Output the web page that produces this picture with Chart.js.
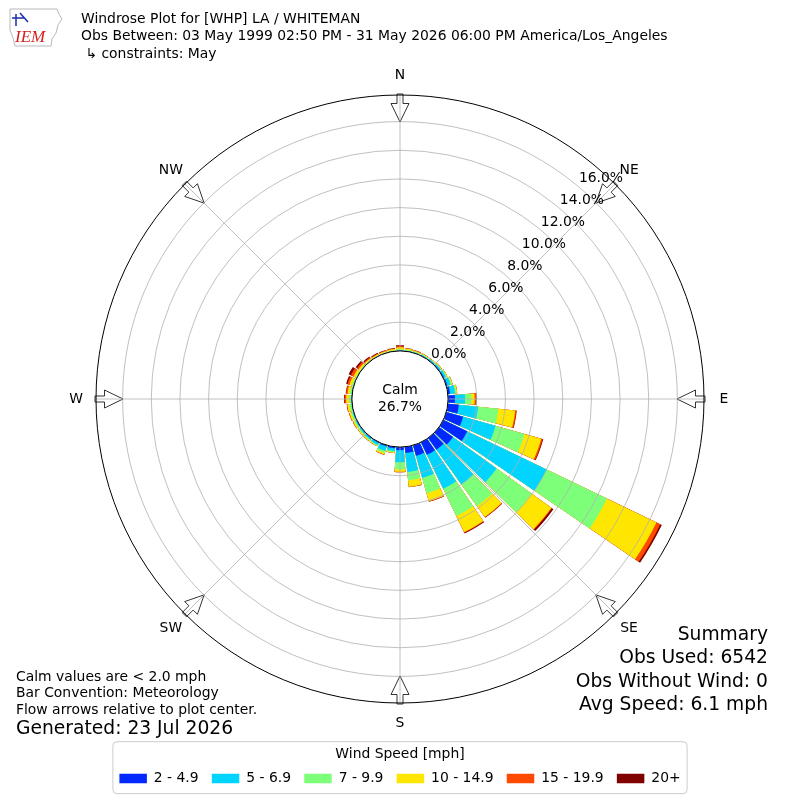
<!DOCTYPE html>
<html lang="en">
<head>
  <meta charset="UTF-8">
  <title>Windrose Plot for [WHP] LA / WHITEMAN</title>
  <style>
    html, body {
      margin: 0;
      padding: 0;
      background: #fff;
    }
    #wrap {
      width: 800px;
      height: 800px;
    }
  </style>
</head>
<body>
  <div id="wrap">
    <canvas id="rose" width="800" height="800"></canvas>
  </div>

  <script src="https://cdn.jsdelivr.net/npm/chart.js"></script>
  <script>
    // bar directions, degrees clockwise from north
    const directions = [0, 10, 20, 30, 40, 50, 60, 70, 80, 90, 100, 110, 120, 130, 140, 150, 160, 170,
      180, 190, 200, 210, 220, 230, 240, 250, 260, 270, 280, 290, 300, 310, 320, 330, 340, 350];

    const speedBins = ['2 - 4.9', '5 - 6.9', '7 - 9.9', '10 - 14.9', '15 - 19.9', '20+'];
    const binColors = ['#0028ff', '#00d4ff', '#7dff7a', '#ffe600', '#ff4a00', '#800000'];

    // percent of all obs, per direction, one list per speed bin
    const pct2to5 = [0.02, 0.02, 0.02, 0.03, 0.04, 0.05, 0.06, 0.08, 0.15, 0.48, 0.77, 1.22, 1.85, 1.20, 1.00, 0.97, 0.76, 0.43,
      0.22, 0.10, 0.08, 0.05, 0.04, 0.03, 0.03, 0.02, 0.02, 0.02, 0.02, 0.01, 0.01, 0.01, 0.01, 0.01, 0.01, 0.01];
    const pct5to7 = [0.03, 0.03, 0.03, 0.04, 0.06, 0.10, 0.14, 0.22, 0.35, 0.70, 1.35, 2.35, 6.15, 3.75, 2.97, 2.63, 1.61, 1.33,
      0.83, 0.20, 0.32, 0.15, 0.11, 0.09, 0.07, 0.06, 0.04, 0.03, 0.03, 0.03, 0.02, 0.02, 0.02, 0.01, 0.01, 0.02];
    const pct7to10 = [0.07, 0.05, 0.05, 0.05, 0.04, 0.05, 0.06, 0.10, 0.10, 0.44, 1.42, 2.10, 4.67, 3.00, 1.88, 2.10, 1.11, 0.59,
      0.51, 0.08, 0.15, 0.06, 0.07, 0.08, 0.08, 0.10, 0.12, 0.15, 0.10, 0.08, 0.05, 0.04, 0.03, 0.03, 0.03, 0.04];
    const pct10to15 = [0.13, 0.08, 0.06, 0.04, 0.03, 0.03, 0.04, 0.05, 0.05, 0.23, 1.18, 1.21, 3.83, 1.70, 0.93, 1.25, 0.57, 0.45,
      0.16, 0.05, 0.11, 0.04, 0.06, 0.07, 0.10, 0.12, 0.15, 0.20, 0.17, 0.18, 0.17, 0.13, 0.09, 0.07, 0.08, 0.08];
    const pct15to20 = [0.08, 0.02, 0.02, 0.01, 0.01, 0.01, 0.01, 0.01, 0.01, 0.10, 0.08, 0.10, 0.30, 0.05, 0.04, 0.05, 0.03, 0.02,
      0.03, 0.01, 0.02, 0.01, 0.01, 0.01, 0.02, 0.03, 0.04, 0.10, 0.10, 0.15, 0.20, 0.13, 0.07, 0.05, 0.04, 0.04];
    const pct20plus = [0.07, 0.02, 0.02, 0.01, 0, 0, 0, 0, 0, 0.05, 0.03, 0.05, 0.12, 0.13, 0.03, 0.05, 0.02, 0.01,
      0.01, 0, 0.01, 0, 0.01, 0.01, 0.01, 0.01, 0.01, 0.05, 0.03, 0.10, 0.17, 0.12, 0.08, 0.05, 0.03, 0.03];

    const rTicks = [0, 2, 4, 6, 8, 10, 12, 14, 16];
    const compass = ['N', 'NE', 'E', 'SE', 'S', 'SW', 'W', 'NW'];
    const calmPct = 26.7;

    const titleLines = [
      'Windrose Plot for [WHP] LA / WHITEMAN',
      'Obs Between: 03 May 1999 02:50 PM - 31 May 2026 06:00 PM America/Los_Angeles',
      ' \u21b3 constraints: May'
    ];
    const notes = ['Calm values are < 2.0 mph', 'Bar Convention: Meteorology', 'Flow arrows relative to plot center.'];
    const generated = 'Generated: 23 Jul 2026';
    const summary = ['Summary', 'Obs Used: 6542', 'Obs Without Wind: 0', 'Avg Speed: 6.1 mph'];

    const FONT = 'DejaVu Sans';
    Chart.defaults.font.family = FONT;
    Chart.defaults.color = '#000';

    // stack the bins: each dataset is the running total, smallest drawn on top
    const cumulative = [];
    let running = directions.map(() => 0);
    [pct2to5, pct5to7, pct7to10, pct10to15, pct15to20, pct20plus].forEach(row => {
      running = running.map((v, i) => v + row[i]);
      cumulative.push(running);
    });

    // every bar is followed by a thin empty wedge so the bars are separated
    const barWidth = 8.6;
    const gapWidth = 1.4;
    const labels = directions.flatMap(d => [d + '\u00b0', '']);

    const datasets = speedBins.map((bin, k) => ({
      label: bin,
      data: cumulative[k].flatMap(v => [v, 0]),
      backgroundColor: ctx => (ctx.dataIndex % 2 ? 'rgba(0,0,0,0)' : binColors[k]),
      borderWidth: 0,
      angle: ctx => (ctx.dataIndex % 2 ? gapWidth : barWidth)
    }));

    const roseDecor = {
      id: 'roseDecor',
      afterDraw(chart) {
        const ctx = chart.ctx;
        const sc = chart.scales.r;
        const cx = sc.xCenter;
        const cy = sc.yCenter;
        const R = sc.drawingArea;
        const r0 = sc.getDistanceFromCenterForValue(0);
        ctx.save();

        // compass arrows + labels
        compass.forEach((name, i) => {
          const a = i * Math.PI / 4;
          const ux = Math.sin(a), uy = -Math.cos(a);
          const px = -uy, py = ux;
          const shape = [[R + 1, -3], [R - 8.5, -3], [R - 8.5, -9], [R - 27, 0], [R - 8.5, 9], [R - 8.5, 3], [R + 1, 3]];
          ctx.beginPath();
          shape.forEach(([d, w], j) => {
            const x = cx + ux * d + px * w;
            const y = cy + uy * d + py * w;
            if (j) ctx.lineTo(x, y); else ctx.moveTo(x, y);
          });
          ctx.closePath();
          ctx.fillStyle = '#fff';
          ctx.fill();
          ctx.strokeStyle = '#333';
          ctx.lineWidth = 1;
          ctx.stroke();

          ctx.fillStyle = '#000';
          ctx.font = '13.9px "' + FONT + '"';
          ctx.textAlign = 'center';
          ctx.textBaseline = 'middle';
          ctx.fillText(name, cx + ux * (R + 20), cy + uy * (R + 20));
        });

        // spokes every 45 degrees
        ctx.strokeStyle = '#b0b0b0';
        ctx.lineWidth = 0.8;
        for (let i = 0; i < 8; i++) {
          const a = i * Math.PI / 4;
          ctx.beginPath();
          ctx.moveTo(cx + Math.sin(a) * r0, cy - Math.cos(a) * r0);
          ctx.lineTo(cx + Math.sin(a) * R, cy - Math.cos(a) * R);
          ctx.stroke();
        }

        // outer edge
        ctx.strokeStyle = '#000';
        ctx.lineWidth = 1;
        ctx.beginPath();
        ctx.arc(cx, cy, R, 0, Math.PI * 2);
        ctx.stroke();

        // radial tick labels, along a line toward NE
        ctx.fillStyle = '#000';
        ctx.font = '13.9px "' + FONT + '"';
        ctx.textAlign = 'center';
        ctx.textBaseline = 'middle';
        sc.ticks.forEach(t => {
          const d = sc.getDistanceFromCenterForValue(t.value) - r0;
          ctx.fillText(t.value.toFixed(1) + '%', cx + 48.7 + d * 0.664, cy - 44.7 - d * 0.766);
        });

        // calm circle
        ctx.beginPath();
        ctx.arc(cx, cy, r0, 0, Math.PI * 2);
        ctx.fillStyle = '#fff';
        ctx.fill();
        ctx.strokeStyle = '#000';
        ctx.lineWidth = 1;
        ctx.stroke();
        ctx.fillStyle = '#000';
        ctx.fillText('Calm', cx, cy - 8.5);
        ctx.fillText(calmPct.toFixed(1) + '%', cx, cy + 8.5);

        // legend frame
        const lg = chart.legend;
        const hb = lg.legendHitBoxes;
        if (hb && hb.length) {
          const x0 = hb[0].left - 6.5;
          const x1 = hb[hb.length - 1].left + hb[hb.length - 1].width + 6.5;
          const y0 = lg.top + 37.7;
          ctx.beginPath();
          ctx.roundRect(x0, y0, x1 - x0, 52, 4);
          ctx.strokeStyle = '#cccccc';
          ctx.lineWidth = 1;
          ctx.stroke();
        }

        // notes, bottom left
        ctx.textAlign = 'left';
        ctx.fillStyle = '#000';
        ctx.font = '13.9px "' + FONT + '"';
        notes.forEach((s, i) => ctx.fillText(s, 16, 677 + i * 16.6));
        ctx.font = '18.7px "' + FONT + '"';
        ctx.fillText(generated, 16, 729);

        // summary, bottom right
        ctx.textAlign = 'right';
        summary.forEach((s, i) => ctx.fillText(s, 768, 635 + i * 23.5));

        // IEM logo
        ctx.beginPath();
        [[10, 9], [57, 9], [59, 14], [62, 19], [58, 25], [56, 33], [52, 39], [51, 46], [15, 46], [13, 38], [10, 30]]
          .forEach(([x, y], j) => (j ? ctx.lineTo(x, y) : ctx.moveTo(x, y)));
        ctx.closePath();
        ctx.strokeStyle = '#b8b8b8';
        ctx.lineWidth = 1;
        ctx.stroke();
        ctx.strokeStyle = '#1a2fb0';
        ctx.lineWidth = 1.5;
        ctx.beginPath();
        ctx.moveTo(16, 14); ctx.lineTo(16, 26);
        ctx.moveTo(12, 18); ctx.lineTo(24, 18);
        ctx.moveTo(20, 13); ctx.lineTo(28, 22);
        ctx.stroke();
        ctx.fillStyle = '#d42020';
        ctx.font = 'italic 17px "Liberation Serif"';
        ctx.textAlign = 'left';
        ctx.fillText('IEM', 15, 38);

        ctx.restore();
      }
    };

    new Chart(document.getElementById('rose'), {
      type: 'polarArea',
      data: { labels: labels, datasets: datasets },
      options: {
        responsive: false,
        animation: false,
        events: [],
        layout: { padding: { left: 81, right: 81, top: 0, bottom: 4.45 } },
        scales: {
          r: {
            min: -3.357,
            max: 17.857,
            bounds: 'data',
            startAngle: -barWidth / 2,
            afterBuildTicks: axis => {
              axis.ticks = rTicks.map(v => ({ value: v }));
            },
            ticks: { display: false },
            grid: { circular: true, color: '#b0b0b0', lineWidth: 0.8, z: 1 },
            angleLines: { display: false },
            pointLabels: { display: false }
          }
        },
        plugins: {
          title: {
            display: true,
            text: titleLines,
            align: 'start',
            color: '#000',
            font: { size: 13.9, weight: 'normal', lineHeight: 1.259 },
            padding: { top: 10.25, bottom: 32.25 }
          },
          legend: {
            position: 'bottom',
            align: 'center',
            onClick: () => {},
            title: {
              display: true,
              text: 'Wind Speed [mph]',
              color: '#000',
              font: { size: 13.9 },
              padding: { top: 43.75, bottom: -5.98 }
            },
            labels: {
              boxWidth: 27.5,
              boxHeight: 9.5,
              padding: 13.2,
              color: '#000',
              font: { size: 13.9 },
              generateLabels: chart => chart.data.datasets.map((ds, i) => ({
                text: ds.label,
                fillStyle: binColors[i],
                strokeStyle: binColors[i],
                lineWidth: 0,
                hidden: false,
                datasetIndex: i
              }))
            }
          },
          tooltip: { enabled: false }
        }
      },
      plugins: [roseDecor]
    });
  </script>
</body>
</html>
